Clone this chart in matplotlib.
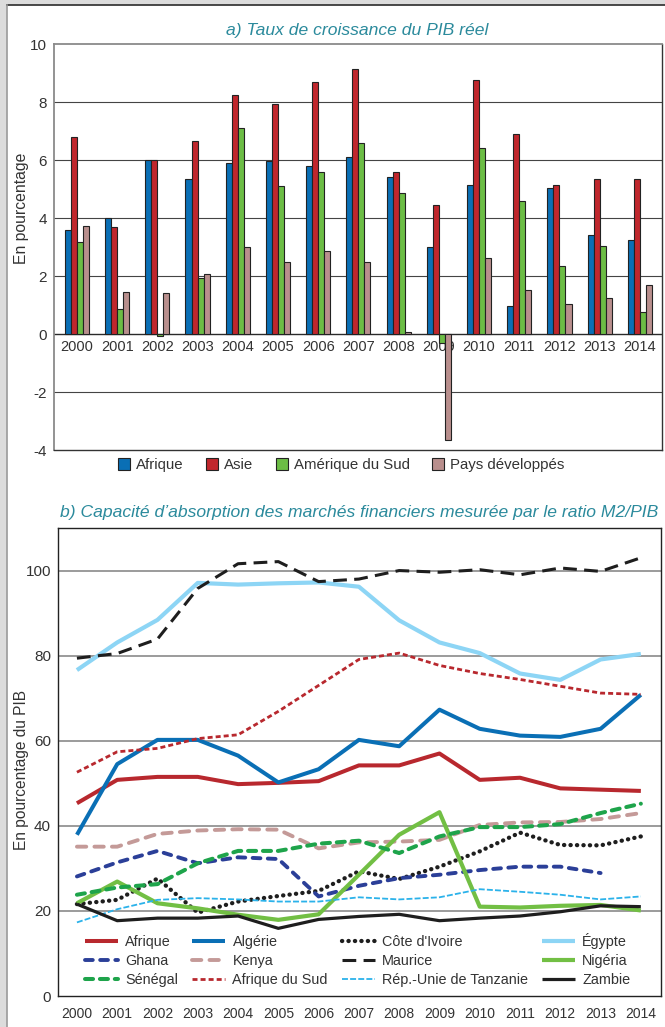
import numpy as np
import matplotlib
matplotlib.use("Agg")
import matplotlib.pyplot as plt
from matplotlib.patches import Rectangle
from matplotlib.lines import Line2D

plt.rcParams['font.family'] = ['Liberation Sans', 'DejaVu Sans']
plt.rcParams['axes.unicode_minus'] = False

# ---------------- data ----------------
years = ["2000", "2001", "2002", "2003", "2004", "2005", "2006", "2007",
         "2008", "2009", "2010", "2011", "2012", "2013", "2014"]

# a) GDP growth (%)
gdp_afrique = [3.6, 4.0, 6.0, 5.35, 5.9, 5.95, 5.8, 6.1, 5.4, 3.0, 5.13, 0.96, 5.03, 3.41, 3.23]
gdp_asie = [6.8, 3.7, 6.0, 6.66, 8.23, 7.92, 8.69, 9.13, 5.59, 4.44, 8.75, 6.89, 5.13, 5.36, 5.36]
gdp_amsud = [3.17, 0.86, -0.08, 1.93, 7.12, 5.09, 5.59, 6.57, 4.86, -0.3, 6.43, 4.57, 2.34, 3.04, 0.76]
gdp_dev = [3.73, 1.46, 1.41, 2.07, 3.0, 2.48, 2.86, 2.48, 0.06, -3.66, 2.62, 1.52, 1.04, 1.24, 1.70]
gdp_labels = ["Afrique", "Asie", "Amérique du Sud", "Pays développés"]
y_ticks_a = [-4, -2, 0, 2, 4, 6, 8, 10]

# b) M2 / GDP (%)
m2_afrique = [45.3, 50.8, 51.5, 51.5, 49.8, 50.1, 50.5, 54.2, 54.2, 57.0, 50.8, 51.3, 48.8, 48.5, 48.2]
m2_algerie = [37.9, 54.5, 60.2, 60.2, 56.5, 50.2, 53.3, 60.2, 58.7, 67.3, 62.8, 61.2, 60.9, 62.8, 70.8]
m2_cotedivoire = [21.6, 22.6, 27.6, 19.6, 22.2, 23.5, 24.7, 29.3, 27.5, 30.4, 34.0, 38.4, 35.5, 35.4, 37.5]
m2_egypte = [76.6, 83.1, 88.4, 97.1, 96.7, 97.0, 97.2, 96.2, 88.3, 83.1, 80.6, 75.8, 74.3, 79.1, 80.4]
m2_ghana = [28.1, 31.4, 34.1, 31.2, 32.6, 32.2, 23.4, 25.9, 27.7, 28.5, 29.6, 30.4, 30.4, 28.9, np.nan]
m2_kenya = [35.1, 35.1, 38.1, 38.9, 39.2, 39.1, 34.7, 36.1, 36.3, 36.7, 40.2, 40.8, 40.9, 41.6, 43.0]
m2_maurice = [79.4, 80.5, 83.9, 95.8, 101.6, 102.1, 97.4, 98.0, 100.0, 99.6, 100.2, 99.0, 100.6, 99.8, 103.0]
m2_nigeria = [21.8, 26.9, 21.8, 20.6, 19.1, 17.9, 19.2, 28.5, 37.9, 43.2, 21.0, 20.8, 21.2, 21.4, 20.1]
m2_senegal = [23.8, 25.5, 26.3, 31.2, 34.1, 34.1, 35.8, 36.5, 33.6, 37.5, 39.7, 39.7, 40.4, 43.0, 45.2]
m2_afsud = [52.6, 57.4, 58.2, 60.5, 61.4, 66.9, 73.0, 79.1, 80.6, 77.7, 75.8, 74.4, 72.8, 71.2, 70.9]
m2_tanzanie = [17.3, 20.4, 22.6, 23.0, 22.7, 22.2, 22.2, 23.2, 22.7, 23.2, 25.1, 24.5, 23.8, 22.7, 23.4]
m2_zambie = [21.6, 17.7, 18.3, 18.3, 18.8, 15.9, 18.0, 18.7, 19.2, 17.7, 18.3, 18.8, 19.8, 21.2, 21.0]
y_ticks_b = [0, 20, 40, 60, 80, 100]

# ---------------- figure ----------------
W, H = 665, 1027
fig = plt.figure(figsize=(W / 100, H / 100), dpi=100)
fig.patch.set_facecolor('#dcdcdc')
panel = Rectangle((7 / W, 0), 1 - 7 / W, 1 - 5 / H, transform=fig.transFigure,
                  facecolor='white', edgecolor='none', zorder=-10)
fig.patches.append(panel)
fig.add_artist(Line2D([7 / W, 1], [1 - 5 / H, 1 - 5 / H], transform=fig.transFigure,
                      color='#3a3a3a', lw=1.3, zorder=-9))
fig.add_artist(Line2D([6.5 / W, 6.5 / W], [0, 1 - 5 / H], transform=fig.transFigure,
                      color='#9a9a9a', lw=1.2, zorder=-9))

txt_col = '#333333'
title_col = '#2b8a9c'

def fx(px):
    return px / W

def fy(py):
    return 1 - py / H

# ---------------- chart a ----------------
ax1 = fig.add_axes([fx(54), fy(450), fx(662) - fx(54), fy(44) - fy(450)])
ax1.set_facecolor('none')
x = np.arange(len(years))
w = 0.15
bar_cols = ['#0a6fb5', '#c0272d', '#6cbd45', '#b98f8d']
series = [gdp_afrique, gdp_asie, gdp_amsud, gdp_dev]
for k, (vals, c, lab) in enumerate(zip(series, bar_cols, gdp_labels)):
    ax1.bar(x + (k - 1.5) * w, vals, width=w, color=c, edgecolor='#222222',
            linewidth=0.8, label=lab, zorder=3)
ax1.set_xlim(-0.57, 14.55)
ax1.set_ylim(-4, 10)
ax1.set_yticks(y_ticks_a)
ax1.set_yticklabels([str(v) for v in y_ticks_a])
ax1.set_xticks([])
for v in y_ticks_a[1:-1]:
    ax1.axhline(v, color='#2a2a2a' if v == 0 else '#444444', lw=1.0 if v == 0 else 0.8, zorder=1)
for i, yr in enumerate(years):
    ax1.text(i, -0.22, yr, ha='center', va='top', fontsize=10.5, color=txt_col, zorder=2)
ax1.tick_params(axis='y', length=0, pad=5, labelsize=11, labelcolor=txt_col)
for s in ['top', 'left']:
    ax1.spines[s].set_color('#8a8a8a')
    ax1.spines[s].set_linewidth(1.3)
for s in ['bottom', 'right']:
    ax1.spines[s].set_color('#333333')
    ax1.spines[s].set_linewidth(1.0)
fig.text(fx(357), fy(30), "a) Taux de croissance du PIB réel", ha='center', va='center',
         fontsize=12.6, style='italic', color=title_col)
fig.text(fx(22), fy(208), "En pourcentage", rotation=90, ha='center', va='center',
         fontsize=11.3, color=txt_col)
fig.legend(*ax1.get_legend_handles_labels(), loc='center', ncol=4,
           bbox_to_anchor=(fx(341), fy(465)), frameon=False, fontsize=10.8,
           handlelength=0.8, handleheight=0.8, handletextpad=0.4, columnspacing=1.5,
           labelcolor=txt_col)

# ---------------- chart b ----------------
ax2 = fig.add_axes([fx(58), fy(996), fx(661) - fx(58), fy(528) - fy(996)])
ax2.set_facecolor('none')
specs = [
    ("Afrique", m2_afrique, dict(color='#b8282e', lw=2.9, ls='-')),
    ("Algérie", m2_algerie, dict(color='#0a6fb5', lw=2.9, ls='-')),
    ("Côte d'Ivoire", m2_cotedivoire, dict(color='#1e1e1e', lw=3.1, ls=(0, (0.05, 1.45)),
                                             dash_capstyle='round')),
    ("Égypte", m2_egypte, dict(color='#8dd5f5', lw=3.0, ls='-')),
    ("Ghana", m2_ghana, dict(color='#2b3f98', lw=2.8, ls=(0, (2.0, 1.9)), dash_capstyle='round')),
    ("Kenya", m2_kenya, dict(color='#c49a98', lw=2.8, ls=(0, (2.4, 2.1)), dash_capstyle='round')),
    ("Maurice", m2_maurice, dict(color='#1e1e1e', lw=2.2, ls=(0, (4.5, 2.4)))),
    ("Nigéria", m2_nigeria, dict(color='#72bf44', lw=3.0, ls='-')),
    ("Sénégal", m2_senegal, dict(color='#1ea44b', lw=2.9, ls=(0, (2.0, 1.7)), dash_capstyle='round')),
    ("Afrique du Sud", m2_afsud, dict(color='#b8282e', lw=2.0, ls=(0, (1.8, 1.1)))),
    ("Rép.-Unie de Tanzanie", m2_tanzanie, dict(color='#2bb2ea', lw=1.3, ls=(0, (3.3, 1.2)))),
    ("Zambie", m2_zambie, dict(color='#1e1e1e', lw=2.3, ls='-')),
]
handles = {}
for lab, vals, st in specs:
    h, = ax2.plot(x, vals, label=lab, zorder=3, solid_capstyle='butt', **st)
    handles[lab] = h
ax2.set_xlim(-0.47, 14.5)
ax2.set_ylim(0, 110)
ax2.set_yticks(y_ticks_b)
ax2.set_yticklabels([str(v) for v in y_ticks_b])
ax2.set_xticks(x)
ax2.set_xticklabels(years)
for v in y_ticks_b[1:]:
    ax2.axhline(v, color='#8a8a8a', lw=1.2, zorder=1)
ax2.tick_params(axis='both', length=0, labelcolor=txt_col)
ax2.tick_params(axis='y', pad=5, labelsize=11)
ax2.tick_params(axis='x', pad=8, labelsize=10)
for s in ax2.spines.values():
    s.set_color('#222222')
    s.set_linewidth(1.0)
fig.text(fx(359), fy(512), "b) Capacité d\u2019absorption des marchés financiers mesurée par le ratio M2/PIB",
         ha='center', va='center', fontsize=12.6, style='italic', color=title_col)
fig.text(fx(22), fy(770), "En pourcentage du PIB", rotation=90, ha='center', va='center',
         fontsize=11.2, color=txt_col)
order = ["Afrique", "Ghana", "Sénégal", "Algérie", "Kenya", "Afrique du Sud",
         "Côte d'Ivoire", "Maurice", "Rép.-Unie de Tanzanie", "Égypte", "Nigéria", "Zambie"]
ax2.legend([handles[o] for o in order], order, ncol=4, loc='upper left',
           bbox_to_anchor=(fx(85), fy(933)), bbox_transform=fig.transFigure,
           frameon=False, fontsize=10.4, borderpad=0, borderaxespad=0,
           handlelength=2.3, handletextpad=0.5, columnspacing=0.95, labelspacing=0.36,
           labelcolor=txt_col)

fig.savefig("out.png", dpi=100, facecolor=fig.get_facecolor())
